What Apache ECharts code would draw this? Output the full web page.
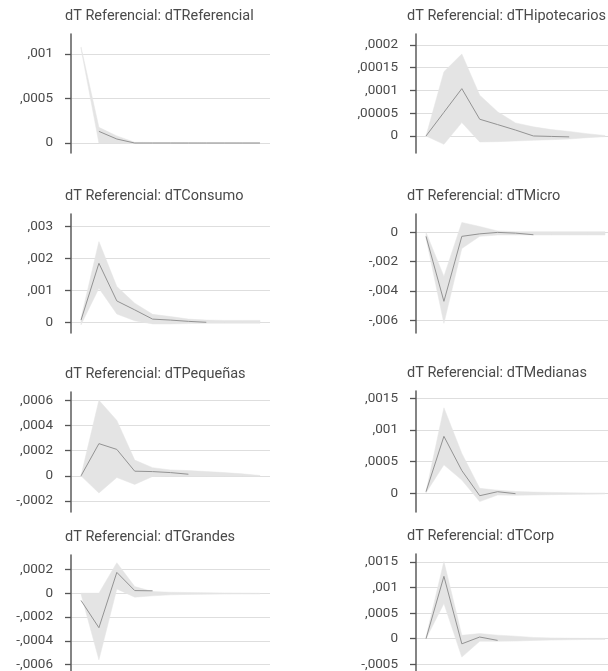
<!DOCTYPE html>
<html>
<head>
<meta charset="utf-8">
<script src="https://cdn.jsdelivr.net/npm/echarts@6/dist/echarts.min.js"></script>
<style>
  html, body { margin: 0; padding: 0; background: #fff; }
  #chart { width: 608px; height: 671px; }
</style>
</head>
<body>
<div id="chart"></div>
<script>
// periods 0..10
const periods = [0, 1, 2, 3, 4, 5, 6, 7, 8, 9, 10];

const titles = [
  'dT Referencial: dTReferencial', 'dT Referencial: dTHipotecarios',
  'dT Referencial: dTConsumo', 'dT Referencial: dTMicro',
  'dT Referencial: dTPequeñas', 'dT Referencial: dTMedianas',
  'dT Referencial: dTGrandes', 'dT Referencial: dTCorp'
];

// impulse responses (line) and confidence band
const refLine  = [null, 0.000131, 0.000045, 0, 0, 0, 0, 0, 0, 0, 0];
const refUpper = [0.00108, 0.000176, 0.00008, 0.000008, 0.000006, 0.000005, 0.000004, 0.000003, 0.000003, 0.000002, 0.000002];
const refLower = [0.00106, 0, 0, -0.000004, -0.000004, -0.000004, -0.000003, -0.000003, -0.000002, -0.000002, -0.000002];

const hipLine  = [0, 0.000052, 0.000104, 0.0000368, 0.000025, 0.000013, 0, -0.000001, -0.000002];
const hipUpper = [0, 0.000141, 0.00018, 0.0000897, 0.000053, 0.0000287, 0.00002, 0.000014, 0.00001, 0.000005, 0.000001];
const hipLower = [0, -0.0000184, 0.0000294, -0.0000132, -0.0000125, -0.000011, -0.0000095, -0.0000081, -0.0000066, -0.0000037, -0.0000015];

const conLine  = [0.00007, 0.00185, 0.00067, 0.00039, 0.0001, 0.00007, 0.00003, 0];
const conUpper = [0.00013, 0.00253, 0.00112, 0.0006, 0.00025, 0.00018, 0.0001, 0.00007, 0.00006, 0.00006, 0.00006];
const conLower = [-0.00008, 0.00107, 0.00026, 0.00005, -0.00005, -0.00005, -0.00004, -0.00003, -0.00003, -0.00003, -0.00003];

const micLine  = [-0.00027, -0.0047, -0.00027, -0.0001, 0, -0.00005, -0.00016];
const micUpper = [0, -0.003, 0.00068, 0.0004, 0.0001, 0.00005, 0.00005, 0.00005, 0.00005, 0.00005, 0.00005];
const micLower = [-0.0004, -0.0062, -0.0011, -0.00027, -0.00018, -0.00018, -0.00018, -0.00018, -0.00018, -0.00018, -0.00018];

const peqLine  = [0, 0.000256, 0.00021, 0.000037, 0.000034, 0.000026, 0.000013];
const peqUpper = [0, 0.0006, 0.00044, 0.000125, 0.000065, 0.000047, 0.000042, 0.000034, 0.000026, 0.000016, 0.000003];
const peqLower = [0, -0.000136, -0.000013, -0.000068, -0.000005, -0.000002, -0.000002, -0.000002, -0.000002, -0.000002, -0.000002];

const medLine  = [0.000026, 0.0009, 0.00036, -0.000037, 0.000026, -0.000005];
const medUpper = [0.000026, 0.00135, 0.00063, 0.000079, 0.00005, 0.00003, 0.00002, 0.000015, 0.00001, 0.000005, 0.000005];
const medLower = [0.00001, 0.00045, 0.00021, -0.00013, -0.000026, -0.000031, -0.000026, -0.000021, -0.000016, -0.000013, -0.00001];

const graLine  = [-0.000061, -0.00029, 0.000175, 0.000022, 0.00002];
const graUpper = [0, 0, 0.000256, 0.000056, 0.000014, 0.000008, 0.000006, 0.000004, 0.000002, 0.000001, 0];
const graLower = [-0.000006, -0.00056, 0.000036, -0.000033, -0.000022, -0.000014, -0.00001, -0.000008, -0.000007, -0.000006, -0.000006];

const corLine  = [0, 0.00122, -0.0001, 0.000033, -0.000033];
const corUpper = [0.000033, 0.00151, 0.000066, 0.0001, 0.00007, 0.00005, 0.000025, 0.000015, 0.00001, 0.000007, 0.000007];
const corLower = [0, 0.00069, -0.00036, -0.00005, -0.00005, -0.000046, -0.000033, -0.000026, -0.00002, -0.000015, -0.000013];

// y tick values and labels per panel
const refTicks = [0, 0.0005, 0.001];
const refLabels = ['0', ',0005', ',001'];
const hipTicks = [0, 0.00005, 0.0001, 0.00015, 0.0002];
const hipLabels = ['0', ',00005', ',0001', ',00015', ',0002'];
const conTicks = [0, 0.001, 0.002, 0.003];
const conLabels = ['0', ',001', ',002', ',003'];
const micTicks = [-0.006, -0.004, -0.002, 0];
const micLabels = ['-,006', '-,004', '-,002', '0'];
const peqTicks = [-0.0002, 0, 0.0002, 0.0004, 0.0006];
const peqLabels = ['-,0002', '0', ',0002', ',0004', ',0006'];
const medTicks = [0, 0.0005, 0.001, 0.0015];
const medLabels = ['0', ',0005', ',001', ',0015'];
const graTicks = [-0.0006, -0.0004, -0.0002, 0, 0.0002];
const graLabels = ['-,0006', '-,0004', '-,0002', '0', ',0002'];
const corTicks = [-0.0005, 0, 0.0005, 0.001, 0.0015];
const corLabels = ['-,0005', '0', ',0005', ',001', ',0015'];

const panels = [
  { line: refLine, up: refUpper, lo: refLower, ticks: refTicks, labels: refLabels, min: -0.000112, max: 0.001225, left: 71, top: 34, h: 119 },
  { line: hipLine, up: hipUpper, lo: hipLower, ticks: hipTicks, labels: hipLabels, min: -0.0000374, max: 0.000224, left: 416, top: 34, h: 119 },
  { line: conLine, up: conUpper, lo: conLower, ticks: conTicks, labels: conLabels, min: -0.000335, max: 0.003395, left: 71, top: 214, h: 119 },
  { line: micLine, up: micUpper, lo: micLower, ticks: micTicks, labels: micLabels, min: -0.00686, max: 0.001254, left: 416, top: 214, h: 119 },
  { line: peqLine, up: peqUpper, lo: peqLower, ticks: peqTicks, labels: peqLabels, min: -0.000287, max: 0.000666, left: 71, top: 392, h: 120 },
  { line: medLine, up: medUpper, lo: medLower, ticks: medTicks, labels: medLabels, min: -0.000294, max: 0.001615, left: 416, top: 391, h: 121 },
  { line: graLine, up: graUpper, lo: graLower, ticks: graTicks, labels: graLabels, min: -0.000662, max: 0.000321, left: 71, top: 555, h: 117 },
  { line: corLine, up: corUpper, lo: corLower, ticks: corTicks, labels: corLabels, min: -0.000651, max: 0.001657, left: 416, top: 554, h: 118 }
];

const chart = echarts.init(document.getElementById('chart'));

const title = [], grid = [], xAxis = [], yAxis = [], series = [];

panels.forEach(function (p, i) {
  title.push({
    text: titles[i],
    left: p.left === 71 ? 65 : 407,
    top: p.top - 25,
    padding: 0,
    textStyle: { fontFamily: 'Roboto', fontSize: 14.5, fontWeight: 'normal', color: '#4a4a4a' }
  });
  grid.push({ left: p.left, top: p.top, width: 199, height: p.h, outerBoundsMode: 'none', containLabel: false });
  xAxis.push({
    type: 'value', gridIndex: i, min: -0.56, max: 10.56, show: false
  });
  yAxis.push({
    type: 'value', gridIndex: i, min: p.min, max: p.max,
    axisLine: { show: true, onZero: false, lineStyle: { color: '#666', width: 1.6 } },
    axisTick: { show: true, length: 6, customValues: p.ticks, lineStyle: { color: '#555', width: 1.3 } },
    axisLabel: {
      customValues: p.ticks,
      margin: 18,
      fontFamily: 'Roboto', fontSize: 13.5, color: '#4a4a4a',
      formatter: function (v) {
        const k = p.ticks.findIndex(t => Math.abs(t - v) < 1e-12);
        return k >= 0 ? p.labels[k] : '';
      }
    },
    splitLine: { show: true, lineStyle: { color: '#dedede', width: 1 } }
  });
  // confidence band as one polygon: upper edge forward, lower edge back
  series.push({
    type: 'custom', xAxisIndex: i, yAxisIndex: i, silent: true,
    data: periods.map((x, k) => [x, p.lo[k], p.up[k]]),
    renderItem: function (params, api) {
      if (params.dataIndex !== 0) return;
      const pts = [];
      periods.forEach((x, k) => pts.push(api.coord([x, p.up[k]])));
      for (let k = periods.length - 1; k >= 0; k--) pts.push(api.coord([periods[k], p.lo[k]]));
      return {
        type: 'polygon',
        shape: { points: pts },
        style: { fill: '#e4e4e4', stroke: '#e4e4e4', lineWidth: 0.5 }
      };
    }
  });
  series.push({
    type: 'line', xAxisIndex: i, yAxisIndex: i,
    symbol: 'none', silent: true,
    lineStyle: { color: '#939393', width: 1 },
    data: p.line.map((v, k) => [periods[k], v])
  });
});

chart.setOption({
  animation: false,
  backgroundColor: '#ffffff',
  title: title,
  grid: grid,
  xAxis: xAxis,
  yAxis: yAxis,
  series: series
});
</script>
</body>
</html>
